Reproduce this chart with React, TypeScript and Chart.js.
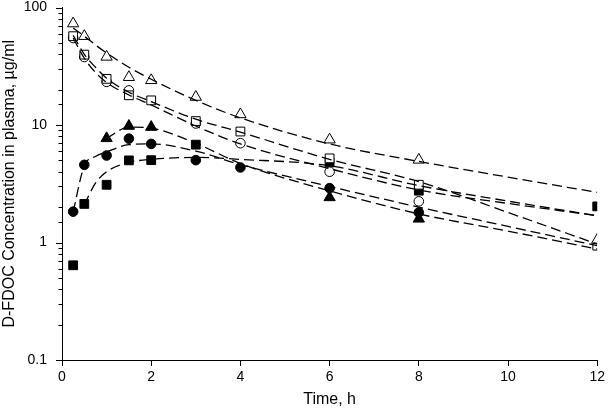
import React, { useEffect, useRef } from "react";
import { Chart, registerables } from "chart.js";

Chart.register(...registerables);

// Observed sampling times (h)
const tObs = [0.25, 0.5, 1, 1.5, 2, 3, 4, 6, 8, 12];
// Observed concentrations (µg/ml); null = not shown
const openTriangle = [73, 57, 38, 25.5, 24, 17.3, 12.3, 7.5, 5.05, 1.05];
const openSquare = [57, 39.7, 24.7, 17.9, 16.2, 10.8, 8.8, 5.2, 3.1, 0.94];
const openCircle = [55, 37.9, 23.3, 19.7, null, 10.3, 7.0, 4.0, 2.24, null];
const filledTriangle = [null, null, 7.7, 9.8, 9.6, null, null, 2.42, 1.59, null];
const filledCircle = [1.83, 4.58, 5.5, 7.65, 6.9, 5.02, 4.35, 2.9, 1.8, null];
const filledSquare = [0.64, 2.13, 3.1, 5.0, 5.02, 6.8, null, 4.8, 2.76, 2.03];

// Fitted curves
const tFit = [0.25, 0.5, 0.75, 1, 1.5, 2, 3, 4, 6, 8, 10, 12];
const fitOpenTriangle = [67, 57, 48, 41, 31, 24.5, 16.2, 11.5, 6.9, 4.9, 3.6, 2.67];
const fitOpenSquare = [58, 40, 31, 25, 19, 15.8, 11.2, 8.7, 5.1, 3.3, 1.8, 0.97];
const fitOpenCircle = [55, 37, 28, 23, 18, 14.8, 9.8, 6.9, 4.25, 2.8, 2.15, 1.69];
const fitFilledTriangle = [null, null, null, 7.7, 9.6, 9.4, 7.0, 4.7, 2.75, 1.75, 1.25, 0.88];
const fitFilledCircle = [1.83, 4.5, 5.4, 5.9, 6.8, 6.9, 6.0, 4.6, 3.0, 2.0, 1.37, 0.94];
const fitFilledSquare = [null, 2.1, 3.2, 4.0, 4.8, 5.1, 5.3, 5.1, 4.5, 3.05, 2.25, 1.69];

// Axis labels
const xTickValues = [0, 2, 4, 6, 8, 10, 12];
const yTickLabels = ["0.1", "1", "10", "100"];
const xTitle = "Time, h";
const yTitle = "D-FDOC Concentration in plasma, µg/ml";

const FONT = "'Liberation Sans', Arial, sans-serif";

function pts(xs: number[], ys: (number | null)[]) {
  const out: { x: number; y: number }[] = [];
  xs.forEach((x, i) => {
    const v = ys[i];
    if (v !== null && v !== undefined) out.push({ x, y: v });
  });
  return out;
}

function isPow10(v: number) {
  const l = Math.log10(v);
  return Math.abs(l - Math.round(l)) < 1e-6;
}

const yTicksPlugin = {
  id: "yTicksMinor",
  afterDraw(chart: any) {
    const y = chart.scales.y;
    const ctx = chart.ctx;
    const left = chart.chartArea.left;
    ctx.save();
    ctx.strokeStyle = "#000";
    ctx.lineWidth = 1;
    for (const t of y.ticks) {
      const v = t.value;
      const len = isPow10(v) ? 6 : 3.5;
      const py = Math.round(y.getPixelForValue(v)) + 0.5;
      ctx.beginPath();
      ctx.moveTo(left - len, py);
      ctx.lineTo(left, py);
      ctx.stroke();
    }
    ctx.restore();
  },
};

export default function App() {
  const ref = useRef<HTMLCanvasElement | null>(null);

  useEffect(() => {
    if (!ref.current) return;
    const markerBase = {
      showLine: false,
      borderColor: "#000",
      pointBorderColor: "#000",
      pointBorderWidth: 1,
      pointHoverRadius: 0,
    };
    const fitBase = {
      showLine: true,
      borderColor: "#000",
      borderWidth: 1.3,
      borderDash: [10, 5],
      pointRadius: 0,
      cubicInterpolationMode: "monotone" as const,
      fill: false,
    };
    const chart = new Chart(ref.current, {
      type: "scatter",
      data: {
        datasets: [
          { ...fitBase, data: pts(tFit, fitOpenTriangle) },
          { ...fitBase, data: pts(tFit, fitOpenSquare) },
          { ...fitBase, data: pts(tFit, fitOpenCircle) },
          { ...fitBase, data: pts(tFit, fitFilledTriangle) },
          { ...fitBase, data: pts(tFit, fitFilledCircle) },
          { ...fitBase, data: pts(tFit, fitFilledSquare) },
          { ...markerBase, data: pts(tObs, openTriangle), pointStyle: "triangle", pointRadius: 6.5, pointBackgroundColor: "#fff" },
          { ...markerBase, data: pts(tObs, openSquare), pointStyle: "rect", pointRadius: 6.2, pointBackgroundColor: "#fff" },
          { ...markerBase, data: pts(tObs, openCircle), pointStyle: "circle", pointRadius: 4.8, pointBackgroundColor: "#fff" },
          { ...markerBase, data: pts(tObs, filledTriangle), pointStyle: "triangle", pointRadius: 6.5, pointBackgroundColor: "#000" },
          { ...markerBase, data: pts(tObs, filledCircle), pointStyle: "circle", pointRadius: 4.8, pointBackgroundColor: "#000" },
          { ...markerBase, data: pts(tObs, filledSquare), pointStyle: "rect", pointRadius: 6.2, pointBackgroundColor: "#000" },
        ] as any,
      },
      options: {
        responsive: false,
        animation: false,
        events: [],
        layout: { padding: { top: 0, right: 8, left: 0, bottom: 0 } },
        plugins: { legend: { display: false }, tooltip: { enabled: false } },
        scales: {
          x: {
            type: "linear",
            min: 0,
            max: 12,
            afterFit: (s: any) => {
              s.height = 52;
            },
            afterBuildTicks: (s: any) => {
              s.ticks = xTickValues.map((v) => ({ value: v }));
            },
            border: { display: true, color: "#000", width: 1 },
            grid: { drawOnChartArea: false, drawTicks: true, tickLength: 6, tickColor: "#000" },
            ticks: { color: "#000", font: { family: FONT, size: 14 }, padding: 3, maxRotation: 0 },
            title: { display: true, text: xTitle, color: "#000", font: { family: FONT, size: 16 }, padding: { top: 0, bottom: 3 } },
          },
          y: {
            type: "logarithmic",
            min: 0.1,
            max: 100,
            afterFit: (s: any) => {
              s.width = 62;
            },
            border: { display: true, color: "#000", width: 1 },
            grid: { drawOnChartArea: false, drawTicks: true, tickLength: 15, tickColor: "rgba(0,0,0,0)" },
            ticks: {
              color: "#000",
              autoSkip: false,
              padding: 0,
              font: { family: FONT, size: 14, lineHeight: 0.9 },
              callback: (v: any) => {
                const n = Number(v);
                if (!isPow10(n)) return "";
                const idx = Math.round(Math.log10(n)) + 1;
                return yTickLabels[idx] ?? "";
              },
            },
            title: { display: true, text: yTitle, color: "#000", font: { family: FONT, size: 16 }, padding: { top: 0, bottom: 0 } },
          },
        },
      } as any,
      plugins: [yTicksPlugin],
    });
    return () => chart.destroy();
  }, []);

  return (
    <div style={{ position: "absolute", left: 0, top: 0, width: 608, height: 412, background: "#fff" }}>
      <canvas ref={ref} width={608} height={412} style={{ display: "block", width: 608, height: 412 }} />
    </div>
  );
}
